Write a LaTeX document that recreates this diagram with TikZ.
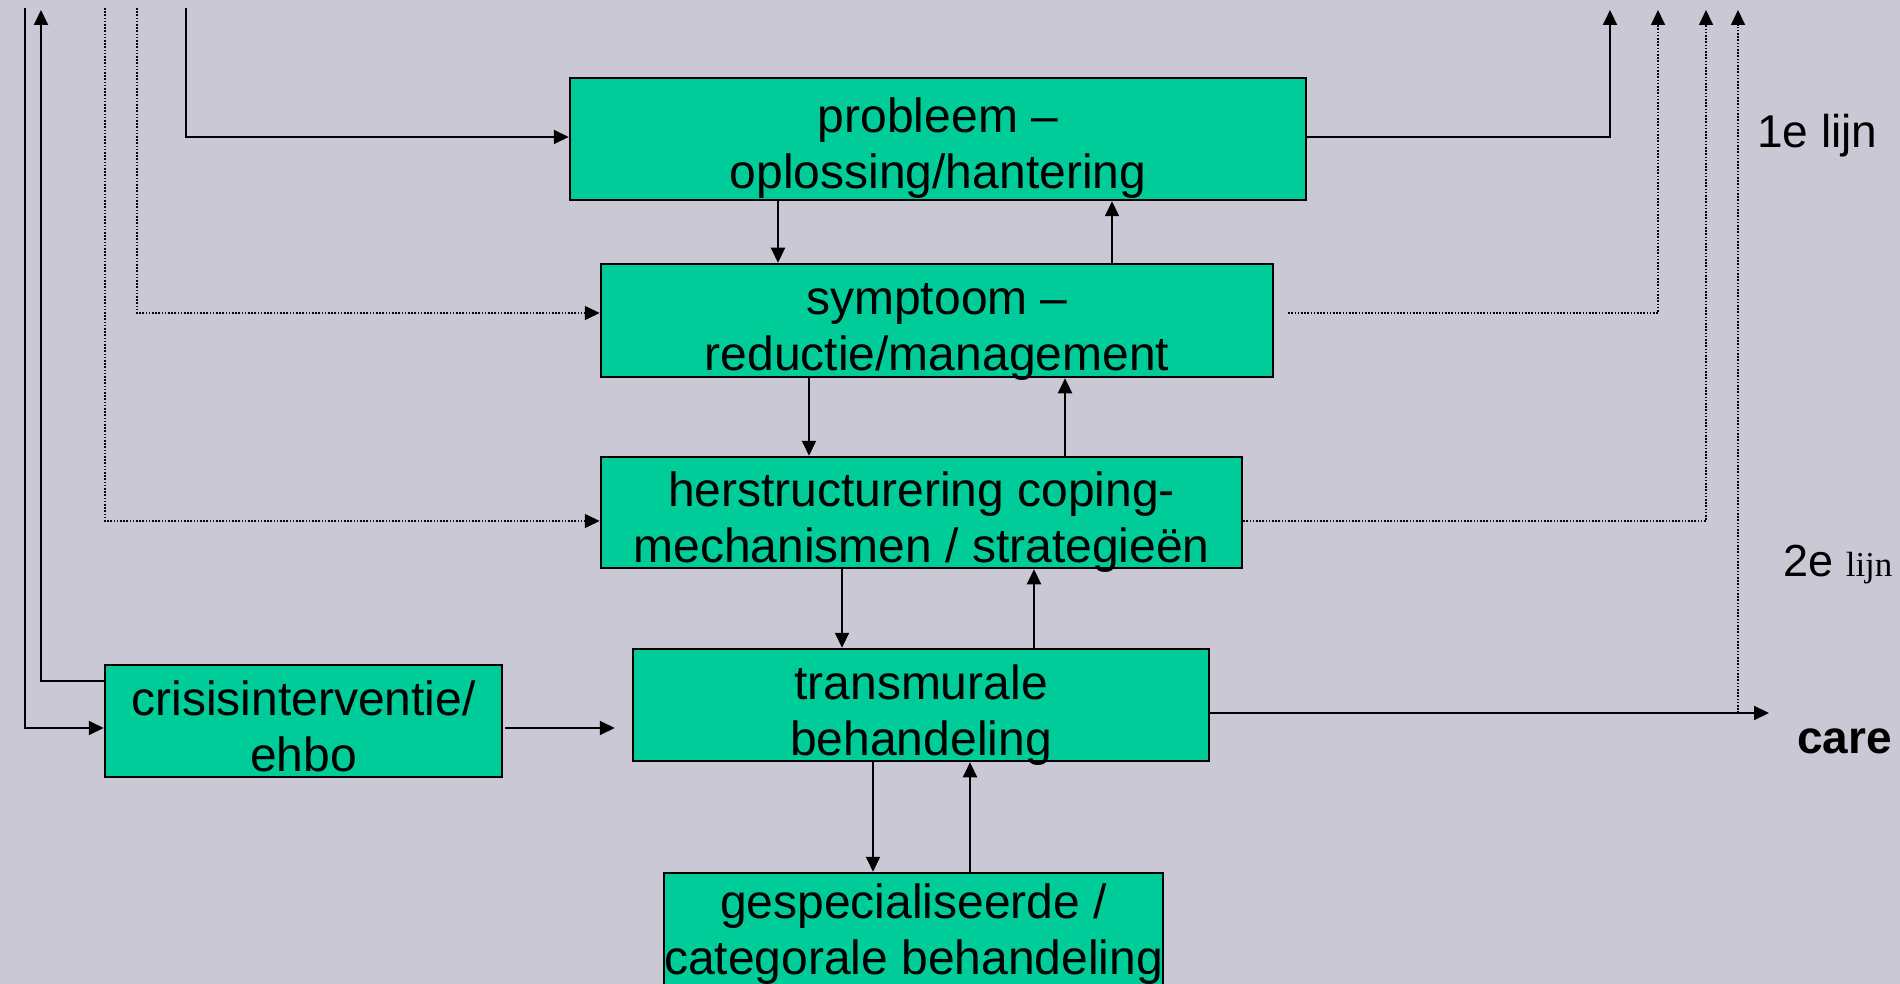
\documentclass[tikz,border=0pt]{standalone}
\usepackage{fontspec}
\setmainfont{Liberation Sans}
\newfontfamily\timesfont{Liberation Serif}
\usetikzlibrary{arrows.meta}
\definecolor{bgcol}{RGB}{203,200,213}
\definecolor{boxgreen}{RGB}{0,204,153}
\newcommand\firststrut{\rule{0pt}{49pt}}
\newcommand\lastline[1]{\raisebox{0pt}[\height][0pt]{#1}\rule[-5pt]{0pt}{5pt}}
\begin{document}
\begin{tikzpicture}[x=1pt,y=-1pt,
  stepbox/.style={draw=black,fill=boxgreen,line width=2.5pt,inner sep=0pt,align=center,font=\fontsize{48}{56}\selectfont},
  conn/.style={draw=black,line width=2pt,-{Triangle[length=15pt,width=14pt]}},
  dotconn/.style={draw=black,line width=1.6pt,dash pattern=on 1.6pt off 1.6pt,-{Triangle[length=15pt,width=14pt]}},
  lbl/.style={anchor=base west,inner sep=0pt}]
\useasboundingbox (0,0) rectangle (1900,984);
\fill[bgcol] (0,0) rectangle (1900,984);

% boxes
\node[stepbox,minimum width=736pt,minimum height=122pt] (prob) at (938,139) {\firststrut probleem --\\\lastline{oplossing/hantering}};
\node[stepbox,minimum width=672pt,minimum height=113pt] (symp) at (937,320.5) {\firststrut symptoom --\\\lastline{reductie/management}};
\node[stepbox,minimum width=641pt,minimum height=111pt] (herst) at (921.5,512.5) {\firststrut herstructurering coping-\\\lastline{mechanismen / strategieën}};
\node[stepbox,minimum width=576pt,minimum height=112pt] (trans) at (921,705) {\firststrut transmurale\\\lastline{behandeling}};
\node[stepbox,minimum width=397pt,minimum height=112pt] (crisis) at (303.5,721) {\firststrut crisisinterventie/\\\lastline{ehbo}};
\node[stepbox,minimum width=496pt,minimum height=112pt] (gesp) at (913.6,929) {\rule{0pt}{40pt}gespecialiseerde /\\\lastline{categorale behandeling}};

% labels
\node[lbl,font=\fontsize{46}{46}\selectfont] (lijn1) at (1757,148) {1e lijn};
\node[lbl] (lijn2) at (1783,576) {\fontsize{45}{45}\selectfont 2e \timesfont\fontsize{35}{35}\selectfont lijn};
\node[lbl,font=\bfseries\fontsize{46}{46}\selectfont] (care) at (1797,753) {care};

% vertical connector positions
\coordinate (v1) at (778,0);
\coordinate (v2) at (1112,0);
\coordinate (v3) at (809,0);
\coordinate (v4) at (1065,0);
\coordinate (v5) at (842,0);
\coordinate (v6) at (1034,0);
\coordinate (v7) at (873,0);
\coordinate (v8) at (970,0);

\draw[conn] (prob.south -| v1) -- (symp.north -| v1);
\draw[conn] (symp.north -| v2) -- (prob.south -| v2);
\draw[conn] (symp.south -| v3) -- (herst.north -| v3);
\draw[conn] (herst.north -| v4) -- (symp.south -| v4);
\draw[conn] (herst.south -| v5) -- (trans.north -| v5);
\draw[conn] (trans.north -| v6) -- (herst.south -| v6);
\draw[conn] (trans.south -| v7) -- (gesp.north -| v7);
\draw[conn] (gesp.north -| v8) -- (trans.south -| v8);

% crisis -> transmurale
\coordinate (cr) at ([yshift=-7pt]crisis.east);
\draw[conn,shorten <=2pt,shorten >=17pt] (cr) -- (cr -| trans.west);

% left side
\coordinate (tL1) at (25,8);
\coordinate (tL2) at (41,10);
\coordinate (tL3) at (105,8);
\coordinate (tL4) at (137,8);
\coordinate (tL5) at (186,8);
\coordinate (crIn) at ([yshift=-7pt]crisis.west);
\coordinate (crOut) at ([yshift=40pt]crisis.west);
\coordinate (hsIn) at ([yshift=-8.5pt]herst.west);
\coordinate (syIn) at ([yshift=7.5pt]symp.west);
\coordinate (prIn) at ([yshift=2pt]prob.west);
\draw[conn] (tL1) |- (crIn);
\draw[conn] (crOut) -| (tL2);
\draw[dotconn] (tL3) |- (hsIn);
\draw[dotconn] (tL4) |- (syIn);
\draw[conn] (tL5) |- (prIn);

% right side
\coordinate (tR1) at (1610,10);
\coordinate (tR2) at (1658,10);
\coordinate (tR3) at (1706,10);
\coordinate (tR4) at (1738,10);
\coordinate (prOut) at ([yshift=2pt]prob.east);
\coordinate (syOut) at ([xshift=14pt,yshift=7.5pt]symp.east);
\coordinate (hsOut) at ([yshift=-8.5pt]herst.east);
\coordinate (trOut) at ([yshift=-8pt]trans.east);
\coordinate (careEnd) at (1769,713);
\coordinate (r4b) at (1738,713);
\draw[conn] (prOut) -| (tR1);
\draw[dotconn] (syOut) -| (tR2);
\draw[dotconn] (hsOut) -| (tR3);
\draw[dotconn] (r4b) -- (tR4);
\draw[conn] (trOut) -- (careEnd);
\end{tikzpicture}
\end{document}
